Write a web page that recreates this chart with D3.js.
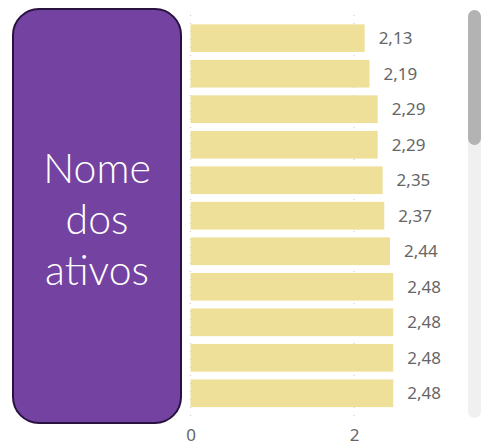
<!DOCTYPE html>
<html>
<head>
<meta charset="utf-8">
<script src="https://cdn.jsdelivr.net/npm/d3@7"></script>
<style>
  body { margin: 0; background: #fff; }
  svg { display: block; }
</style>
</head>
<body>
<div id="chart"></div>
<script>
// data
var ativos = ["A1", "A2", "A3", "A4", "A5", "A6", "A7", "A8", "A9", "A10", "A11"];
var valores = [2.13, 2.19, 2.29, 2.29, 2.35, 2.37, 2.44, 2.48, 2.48, 2.48, 2.48];
var xTicks = [0, 2];
var tituloLinhas = ["Nome", "dos", "ativos"];

var width = 483, height = 447;

var svg = d3.select("#chart").append("svg")
    .attr("width", width)
    .attr("height", height);

// purple card on the left
svg.append("rect")
    .attr("x", 13)
    .attr("y", 9)
    .attr("width", 168)
    .attr("height", 414)
    .attr("rx", 26)
    .attr("ry", 26)
    .attr("fill", "#7442a0")
    .attr("stroke", "#2a1240")
    .attr("stroke-width", 2);

svg.append("g")
    .selectAll("text")
    .data(tituloLinhas)
    .join("text")
    .attr("x", 97)
    .attr("y", (d, i) => 183 + i * 51)
    .attr("text-anchor", "middle")
    .attr("fill", "#fff")
    .style("font-family", "Lato, sans-serif")
    .style("font-weight", 300)
    .style("font-size", "41px")
    .text(d => d);

// bar chart
var x = d3.scaleLinear()
    .domain([0, 2])
    .range([190.5, 354]);

var y = d3.scaleBand()
    .domain(ativos)
    .range([21.5, 410])
    .paddingInner(0.22)
    .paddingOuter(0.08);

// dotted grid
svg.append("g")
    .selectAll("line")
    .data(xTicks)
    .join("line")
    .attr("x1", d => x(d))
    .attr("x2", d => x(d))
    .attr("y1", 15)
    .attr("y2", 422)
    .attr("stroke", "#c8c8c8")
    .attr("stroke-width", 1)
    .attr("stroke-dasharray", "1,7");

svg.append("g")
    .selectAll("rect")
    .data(valores)
    .join("rect")
    .attr("x", x(0))
    .attr("y", (d, i) => y(ativos[i]))
    .attr("width", d => x(d) - x(0))
    .attr("height", y.bandwidth())
    .attr("fill", "#eedf99");

svg.append("g")
    .selectAll("text")
    .data(valores)
    .join("text")
    .attr("x", d => x(d) + 14)
    .attr("y", (d, i) => y(ativos[i]) + y.bandwidth() / 2)
    .attr("dy", "0.35em")
    .attr("fill", "#666")
    .style("font-family", "'Noto Sans', sans-serif")
    .style("font-size", "17px")
    .text(d => d3.format(".2f")(d).replace(".", ","));

// x axis
var xAxis = svg.append("g")
    .attr("transform", "translate(0,427)")
    .call(d3.axisBottom(x).tickValues(xTicks).tickSize(0).tickPadding(0).tickFormat(d => d));
xAxis.select(".domain").remove();
xAxis.selectAll("text")
    .attr("fill", "#666")
    .attr("dy", "0.8em")
    .style("font-family", "'Noto Sans', sans-serif")
    .style("font-size", "17px");

// scrollbar
svg.append("rect")
    .attr("x", 468)
    .attr("y", 10)
    .attr("width", 13)
    .attr("height", 408)
    .attr("rx", 6.5)
    .attr("fill", "#f0f0f0");
svg.append("rect")
    .attr("x", 468)
    .attr("y", 10)
    .attr("width", 13)
    .attr("height", 135)
    .attr("rx", 6.5)
    .attr("fill", "#b3b3b3");
</script>
</body>
</html>
